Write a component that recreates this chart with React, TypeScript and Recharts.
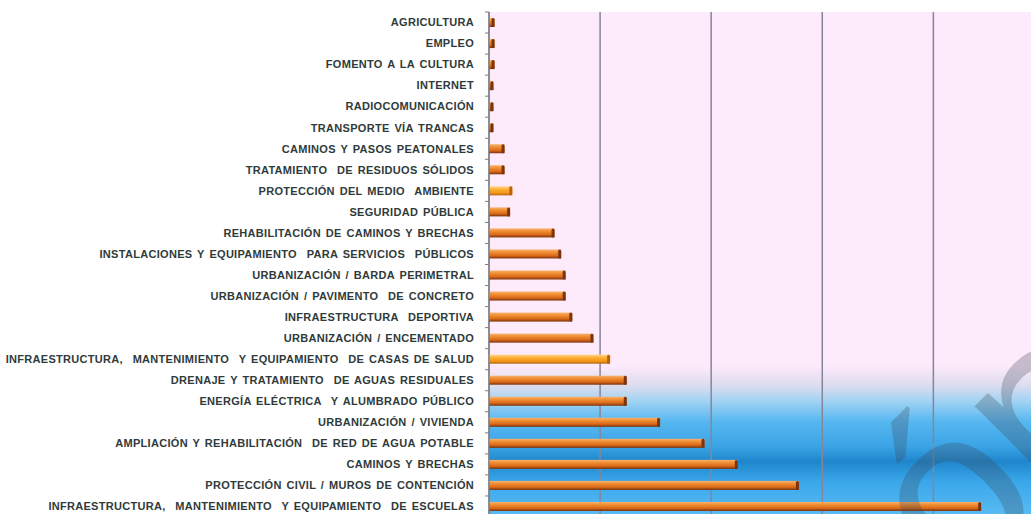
import { BarChart, Bar, XAxis, YAxis, CartesianGrid } from "recharts";

const categories = [
  "AGRICULTURA",
  "EMPLEO",
  "FOMENTO A LA CULTURA",
  "INTERNET",
  "RADIOCOMUNICACIÓN",
  "TRANSPORTE VÍA TRANCAS",
  "CAMINOS Y PASOS PEATONALES",
  "TRATAMIENTO  DE RESIDUOS SÓLIDOS",
  "PROTECCIÓN DEL MEDIO  AMBIENTE",
  "SEGURIDAD PÚBLICA",
  "REHABILITACIÓN DE CAMINOS Y BRECHAS",
  "INSTALACIONES Y EQUIPAMIENTO  PARA SERVICIOS  PÚBLICOS",
  "URBANIZACIÓN / BARDA PERIMETRAL",
  "URBANIZACIÓN / PAVIMENTO  DE CONCRETO",
  "INFRAESTRUCTURA  DEPORTIVA",
  "URBANIZACIÓN / ENCEMENTADO",
  "INFRAESTRUCTURA,  MANTENIMIENTO  Y EQUIPAMIENTO  DE CASAS DE SALUD",
  "DRENAJE Y TRATAMIENTO  DE AGUAS RESIDUALES",
  "ENERGÍA ELÉCTRICA  Y ALUMBRADO PÚBLICO",
  "URBANIZACIÓN / VIVIENDA",
  "AMPLIACIÓN Y REHABILITACIÓN  DE RED DE AGUA POTABLE",
  "CAMINOS Y BRECHAS",
  "PROTECCIÓN CIVIL / MUROS DE CONTENCIÓN",
  "INFRAESTRUCTURA,  MANTENIMIENTO  Y EQUIPAMIENTO  DE ESCUELAS",
];

// share of projects (%)
const values = [
  0.25, 0.25, 0.25, 0.2, 0.2, 0.2, 0.7, 0.7, 1.05, 0.95, 2.95, 3.25, 3.45, 3.45,
  3.75, 4.7, 5.45, 6.2, 6.2, 7.7, 9.7, 11.2, 13.95, 22.15,
];

const xTicks = [0, 5, 10, 15, 20, 25];

// bars drawn in the lighter orange
const highlighted = ["PROTECCIÓN DEL MEDIO  AMBIENTE", "INFRAESTRUCTURA,  MANTENIMIENTO  Y EQUIPAMIENTO  DE CASAS DE SALUD"];

const data = categories.map((name, i) => ({ name, value: values[i] }));

const CHART_H = 520;
const MARGIN_TOP = 12;
const MARGIN_BOTTOM = 3;
const band = (CHART_H - MARGIN_TOP - MARGIN_BOTTOM) / categories.length;

function CategoryTick(props: any) {
  const { x, y, payload } = props;
  return (
    <g>
      <line x1={x + 11} x2={x + 15} y1={y - band / 2} y2={y - band / 2} stroke="#7f7f7f" strokeWidth={1} />
      <text
        x={x}
        y={y}
        dy={3.8}
        textAnchor="end"
        fontFamily="'Liberation Sans', Arial, sans-serif"
        fontWeight="bold"
        fontSize={11}
        letterSpacing={0.3}
        fill="#2f3b3b"
        style={{ whiteSpace: "pre", wordSpacing: 1.5 }}
      >
        {payload.value}
      </text>
    </g>
  );
}

function BarShape(props: any) {
  const { x, y, width, height, payload } = props;
  if (!width || width <= 0) return null;
  const light = highlighted.includes(payload.name);
  const cap = Math.min(3, width);
  return (
    <g>
      <rect x={x} y={y} width={width} height={height} fill={light ? "url(#barLight)" : "url(#barOrange)"} />
      <rect x={x + width - cap} y={y} width={cap} height={height} rx={1.5} fill={light ? "#b8620e" : "#7a3410"} />
    </g>
  );
}

export default function App() {
  return (
    <div style={{ position: "fixed", left: 0, top: 0, width: 1031, height: 514, overflow: "hidden", background: "#fff" }}>
      <svg width={0} height={0} style={{ position: "absolute" }}>
        <defs>
          <linearGradient id="bgGrad" x1="0" y1="0" x2="0" y2="1">
            <stop offset="0%" stopColor="#fdeafb" />
            <stop offset="70%" stopColor="#fdeafb" />
            <stop offset="74%" stopColor="#dcdcee" />
            <stop offset="77%" stopColor="#a2d3f3" />
            <stop offset="81%" stopColor="#58b8f0" />
            <stop offset="86%" stopColor="#3aa4e6" />
            <stop offset="89%" stopColor="#1f86cc" />
            <stop offset="93%" stopColor="#3aa7ea" />
            <stop offset="100%" stopColor="#5bbcf4" />
          </linearGradient>
          <linearGradient id="barOrange" x1="0" y1="0" x2="0" y2="1">
            <stop offset="0%" stopColor="#f8b26c" />
            <stop offset="35%" stopColor="#ee8a2e" />
            <stop offset="70%" stopColor="#d9691a" />
            <stop offset="100%" stopColor="#7a3008" />
          </linearGradient>
          <linearGradient id="barLight" x1="0" y1="0" x2="0" y2="1">
            <stop offset="0%" stopColor="#ffd48a" />
            <stop offset="40%" stopColor="#fbaa2a" />
            <stop offset="75%" stopColor="#f39418" />
            <stop offset="100%" stopColor="#b2600c" />
          </linearGradient>
        </defs>
      </svg>
      <BarChart
        width={1100}
        height={CHART_H}
        data={data}
        layout="vertical"
        margin={{ top: MARGIN_TOP, right: 0, bottom: MARGIN_BOTTOM, left: 0 }}
        barSize={9}
      >
        <CartesianGrid horizontal={false} stroke="#86869a" strokeWidth={1.5} fill="url(#bgGrad)" fillOpacity={1} />
        <XAxis type="number" domain={[0, 27.5]} ticks={xTicks} hide />
        <YAxis
          type="category"
          dataKey="name"
          width={489}
          interval={0}
          tickSize={0}
          tickMargin={15}
          tick={<CategoryTick />}
          axisLine={{ stroke: "#7f7f7f", strokeWidth: 1.2 }}
          tickLine={false}
        />
        <Bar dataKey="value" isAnimationActive={false} shape={<BarShape />} />
      </BarChart>
      <svg
        width={1031}
        height={514}
        style={{ position: "absolute", left: 0, top: 0, pointerEvents: "none" }}
      >
        <g transform="translate(962 506) rotate(-45)" opacity={0.28}>
          <text x={-64} y={60} fontFamily="'Liberation Sans', Arial, sans-serif" fontSize={230} fill="#3c4658">
            ón
          </text>
        </g>
      </svg>
    </div>
  );
}
